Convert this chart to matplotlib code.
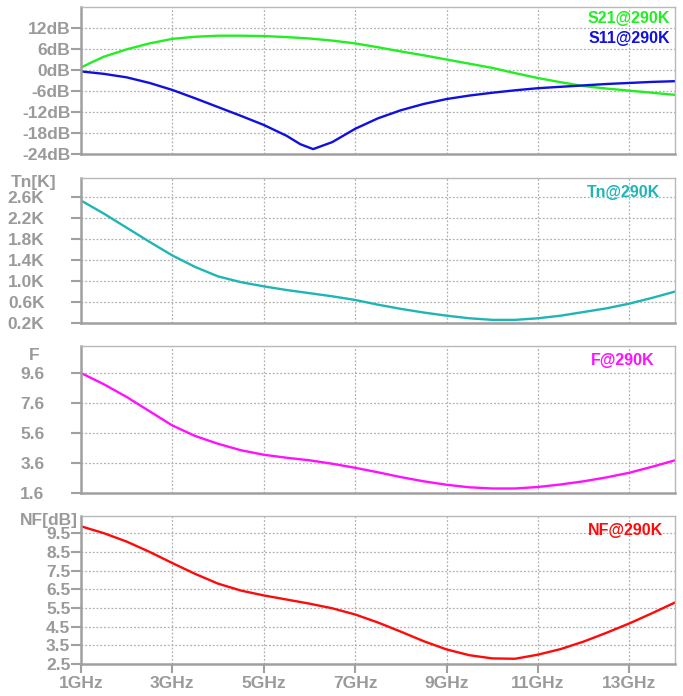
import matplotlib
matplotlib.use("Agg")
import matplotlib.pyplot as plt

# ---------------- data ----------------
freq_s21 = [1.0, 1.25, 1.5, 2.0, 2.5, 3.0, 3.5, 4.0, 4.5, 5.0, 5.5, 6.0, 6.5, 7.0, 7.5, 8.0,
            8.5, 9.0, 9.5, 10.0, 10.5, 11.0, 11.5, 12.0, 12.5, 13.0, 13.5, 14.0]
s21_db = [0.7, 2.3, 3.8, 5.9, 7.6, 8.9, 9.5, 9.8, 9.8, 9.7, 9.4, 9.0, 8.4, 7.6, 6.5, 5.3,
          4.2, 3.0, 1.8, 0.6, -0.9, -2.3, -3.5, -4.6, -5.3, -5.9, -6.5, -7.1]

freq_s11 = [1.0, 1.5, 2.0, 2.5, 3.0, 3.5, 4.0, 4.5, 5.0, 5.5, 5.8, 6.08, 6.5, 7.0, 7.5, 8.0,
            8.5, 9.0, 9.5, 10.0, 10.5, 11.0, 11.5, 12.0, 12.5, 13.0, 13.5, 14.0]
s11_db = [-0.4, -1.1, -2.1, -3.7, -5.7, -8.1, -10.6, -13.1, -15.7, -18.8, -21.2, -22.6, -20.6,
          -16.8, -13.8, -11.5, -9.7, -8.3, -7.3, -6.5, -5.8, -5.2, -4.8, -4.4, -4.0, -3.7, -3.4, -3.2]

freq_tn = [1.0, 1.5, 2.0, 2.5, 3.0, 3.5, 4.0, 4.5, 5.0, 5.5, 6.0, 6.5, 7.0, 7.5, 8.0, 8.5,
           9.0, 9.5, 10.0, 10.5, 11.0, 11.5, 12.0, 12.5, 13.0, 13.5, 14.0]
tn_k = [2.54, 2.29, 2.02, 1.75, 1.49, 1.27, 1.09, 0.98, 0.90, 0.83, 0.77, 0.71, 0.64, 0.55,
        0.47, 0.40, 0.34, 0.29, 0.26, 0.26, 0.29, 0.34, 0.41, 0.48, 0.57, 0.68, 0.80]

freq_f = [1.0, 1.5, 2.0, 2.5, 3.0, 3.5, 4.0, 4.5, 5.0, 5.5, 6.0, 6.5, 7.0, 7.5, 8.0, 8.5,
          9.0, 9.5, 10.0, 10.5, 11.0, 11.5, 12.0, 12.5, 13.0, 13.5, 14.0]
f_val = [9.6, 8.85, 8.0, 7.05, 6.1, 5.4, 4.88, 4.45, 4.15, 3.95, 3.78, 3.55, 3.28, 2.98, 2.66,
         2.38, 2.15, 1.98, 1.9, 1.9, 2.0, 2.17, 2.38, 2.64, 2.95, 3.35, 3.78]

freq_nf = [1.0, 1.5, 2.0, 2.5, 3.0, 3.5, 4.0, 4.5, 5.0, 5.5, 6.0, 6.5, 7.0, 7.5, 8.0, 8.5,
           9.0, 9.5, 10.0, 10.5, 11.0, 11.5, 12.0, 12.5, 13.0, 13.5, 14.0]
nf_db = [9.87, 9.5, 9.05, 8.5, 7.9, 7.32, 6.8, 6.43, 6.17, 5.95, 5.73, 5.48, 5.15, 4.72, 4.23,
         3.72, 3.28, 2.97, 2.8, 2.78, 3.0, 3.3, 3.7, 4.17, 4.67, 5.22, 5.79]

x_ticks = [1, 3, 5, 7, 9, 11, 13]
x_labels = ["1GHz", "3GHz", "5GHz", "7GHz", "9GHz", "11GHz", "13GHz"]

s_ticks = [-24, -18, -12, -6, 0, 6, 12]
s_labels = ["-24dB", "-18dB", "-12dB", "-6dB", "0dB", "6dB", "12dB"]
tn_ticks = [0.2, 0.6, 1.0, 1.4, 1.8, 2.2, 2.6]
tn_labels = ["0.2K", "0.6K", "1.0K", "1.4K", "1.8K", "2.2K", "2.6K"]
f_ticks = [1.6, 3.6, 5.6, 7.6, 9.6]
f_labels = ["1.6", "3.6", "5.6", "7.6", "9.6"]
nf_ticks = [2.5, 3.5, 4.5, 5.5, 6.5, 7.5, 8.5, 9.5]
nf_labels = ["2.5", "3.5", "4.5", "5.5", "6.5", "7.5", "8.5", "9.5"]

# ---------------- styling ----------------
plt.rcParams['font.family'] = ['Liberation Sans', 'DejaVu Sans']
W, H = 683, 696
fig = plt.figure(figsize=(W / 100, H / 100), dpi=100)
gray = '#a0a0a0'
lab_gray = '#9a9a9a'
tick_fs = 12.5
leg_fs = 11.5

def px_axes(y_top, y_bot):
    left = 81 / W
    width = 594 / W
    return fig.add_axes([left, 1 - y_bot / H, width, (y_bot - y_top) / H])

def style(ax, yticks, ylabels, ylim, pad, bottom=False):
    ax.set_xlim(1, 14)
    ax.set_ylim(*ylim)
    ax.set_xticks(x_ticks)
    ax.set_yticks(yticks)
    ax.set_yticklabels(ylabels)
    ax.grid(True, color='#b0b0b0', linestyle=(0, (1.5, 1.5)), linewidth=0.9)
    for s in ['left', 'bottom']:
        ax.spines[s].set_color(gray)
        ax.spines[s].set_linewidth(1.8)
    for s in ['top', 'right']:
        ax.spines[s].set_color('#b8b8b8')
        ax.spines[s].set_linewidth(1.0)
    ax.tick_params(axis='y', direction='out', length=7.2, width=1.5, color=gray,
                   labelcolor=lab_gray, labelsize=tick_fs, pad=pad)
    for t in ax.get_yticklabels():
        t.set_fontweight('bold')
    if bottom:
        ax.set_xticklabels(x_labels)
        ax.tick_params(axis='x', direction='out', length=6.5, width=1.5, color=gray,
                       labelcolor=lab_gray, labelsize=tick_fs, pad=2)
        for t in ax.get_xticklabels():
            t.set_fontweight('bold')
    else:
        ax.tick_params(axis='x', length=0, labelbottom=False)

lw = 1.7
kw = dict(lw=lw, solid_joinstyle='round', solid_capstyle='round')
leg_x = (670 - 81) / 594

# Panel 1: S-parameters
ax1 = px_axes(7, 154)
ax1.plot(freq_s21, s21_db, color='#22ee22', **kw)
ax1.plot(freq_s11, s11_db, color='#1010e0', **kw)
style(ax1, s_ticks, s_labels, (-24, 18), 0.5)
ax1.text(leg_x, 0.925, 'S21@290K', transform=ax1.transAxes, ha='right', va='center',
         color='#22ee22', fontsize=leg_fs, fontweight='bold')
ax1.text(leg_x, 0.785, 'S11@290K', transform=ax1.transAxes, ha='right', va='center',
         color='#1010e0', fontsize=leg_fs, fontweight='bold')

# Panel 2: Tn
ax2 = px_axes(178, 323)
ax2.plot(freq_tn, tn_k, color='#1fb5b5', **kw)
style(ax2, tn_ticks, tn_labels, (0.2, 2.97), 19)
ax2.text(0.975, 0.9, 'Tn@290K', transform=ax2.transAxes, ha='right', va='center',
         color='#1fb5b5', fontsize=leg_fs, fontweight='bold')
fig.text(34 / W, 1 - 183 / H, 'Tn[K]', ha='center', va='center', color=lab_gray,
         fontsize=tick_fs, fontweight='bold')

# Panel 3: F
ax3 = px_axes(346, 493)
ax3.plot(freq_f, f_val, color='#ff10ff', **kw)
style(ax3, f_ticks, f_labels, (1.6, 11.4), 19)
ax3.text(0.965, 0.9, 'F@290K', transform=ax3.transAxes, ha='right', va='center',
         color='#ff10ff', fontsize=leg_fs, fontweight='bold')
fig.text(34 / W, 1 - 355 / H, 'F', ha='center', va='center', color=lab_gray,
         fontsize=tick_fs, fontweight='bold')

# Panel 4: NF
ax4 = px_axes(516, 664)
ax4.plot(freq_nf, nf_db, color='#ff0a0a', **kw)
style(ax4, nf_ticks, nf_labels, (2.5, 10.42), 0.5, bottom=True)
ax4.text(0.98, 0.9, 'NF@290K', transform=ax4.transAxes, ha='right', va='center',
         color='#ff0a0a', fontsize=leg_fs, fontweight='bold')
fig.text(49 / W, 1 - 521 / H, 'NF[dB]', ha='center', va='center', color=lab_gray,
         fontsize=tick_fs, fontweight='bold')

fig.savefig('out.png', dpi=100, facecolor='white')
